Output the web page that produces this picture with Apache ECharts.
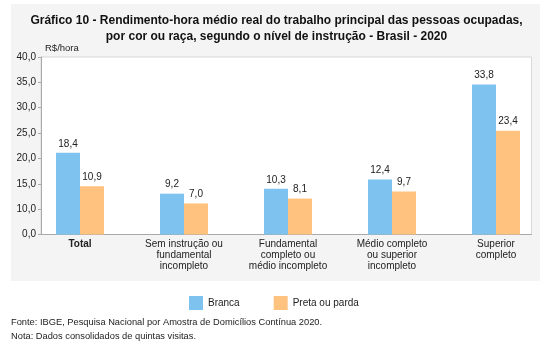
<!DOCTYPE html>
<html>
<head>
<meta charset="utf-8">
<script src="https://cdn.jsdelivr.net/npm/echarts@6/dist/echarts.min.js"></script>
<style>
  html, body { margin: 0; padding: 0; background: #fff; }
  #chart { width: 553px; height: 352px; }
</style>
</head>
<body>
<div id="chart"></div>
<script>
// dados
var categorias = ['Total', 'Sem instrução ou\nfundamental\nincompleto', 'Fundamental\ncompleto ou\nmédio incompleto', 'Médio completo\nou superior\nincompleto', 'Superior\ncompleto'];
var branca = [18.4, 9.2, 10.3, 12.4, 33.8];
var pretaParda = [10.9, 7.0, 8.1, 9.7, 23.4];
// rótulos do eixo como aparecem no original (sem o 5,0)
var rotulosEixo = ['0,0', '10,0', '15,0', '20,0', '25,0', '30,0', '35,0', '40,0'];

var fonte = 'Liberation Sans, Arial, sans-serif';
var passo = 40 / (rotulosEixo.length - 1);

function virgula(v) {
    return v.toFixed(1).replace('.', ',');
}

var chart = echarts.init(document.getElementById('chart'), null, {renderer: 'canvas'});

var rotuloBarra = {
    show: true,
    position: 'top',
    distance: 4,
    color: '#222',
    fontSize: 10,
    fontFamily: fonte,
    formatter: function (p) { return virgula(p.value); }
};

chart.setOption({
    backgroundColor: '#fff',
    animation: false,
    textStyle: {fontFamily: fonte},
    title: [{
        text: 'Gráfico 10 - Rendimento-hora médio real do trabalho principal das pessoas ocupadas,\npor cor ou raça, segundo o nível de instrução - Brasil - 2020',
        left: 'center',
        top: 8,
        textStyle: {fontSize: 12, fontWeight: 'bold', color: '#111', lineHeight: 16, fontFamily: fonte}
    }, {
        text: 'Fonte: IBGE, Pesquisa Nacional por Amostra de Domicílios Contínua 2020.\nNota: Dados consolidados de quintas visitas.',
        left: 11,
        top: 315,
        padding: 0,
        textStyle: {fontSize: 9.3, fontWeight: 'normal', color: '#222', lineHeight: 14, fontFamily: fonte}
    }, {
        text: 'R$/hora',
        left: 45,
        top: 43,
        padding: 0,
        textStyle: {fontSize: 9.5, fontWeight: 'normal', color: '#222', fontFamily: fonte}
    }],
    graphic: [{
        type: 'rect',
        z: -10,
        shape: {x: 11, y: 4, width: 529, height: 277},
        style: {fill: '#f4f4f4'}
    }],
    legend: {
        left: 184,
        top: 291,
        itemWidth: 14,
        itemHeight: 14,
        itemGap: 34,
        icon: 'rect',
        textStyle: {fontSize: 10, color: '#222', fontFamily: fonte},
        data: ['Branca', 'Preta ou parda']
    },
    grid: [
        {left: 41, top: 57, right: 21.5, bottom: 117.5, show: true, backgroundColor: '#fff', borderColor: '#d8d8d8', borderWidth: 1},
        {left: 28, top: 57, width: 520, bottom: 117.5}
    ],
    xAxis: [{
        gridIndex: 0,
        type: 'value',
        min: 0, max: 1,
        axisLine: {show: true, lineStyle: {color: '#aaa'}},
        axisTick: {show: false},
        axisLabel: {show: false},
        splitLine: {show: false}
    }, {
        gridIndex: 1,
        type: 'category',
        data: categorias,
        axisLine: {show: false},
        axisTick: {show: false},
        axisLabel: {
            interval: 0,
            margin: 4,
            fontSize: 10,
            lineHeight: 11,
            color: '#222',
            formatter: function (v) { return v === 'Total' ? '{b|Total}' : v; },
            rich: {b: {fontWeight: 'bold', fontSize: 10, color: '#222'}}
        }
    }],
    yAxis: [{
        gridIndex: 0,
        type: 'value',
        min: 0, max: 40,
        interval: passo,
        axisLine: {show: true, lineStyle: {color: '#aaa'}},
        axisTick: {show: true, length: 3, lineStyle: {color: '#aaa'}},
        splitLine: {show: false},
        axisLabel: {
            fontSize: 10,
            color: '#222',
            margin: 5,
            formatter: function (v) { return rotulosEixo[Math.round(v / passo)]; }
        }
    }, {
        gridIndex: 1,
        type: 'value',
        min: 0, max: 40,
        show: false
    }],
    series: [{
        name: 'Branca',
        type: 'bar',
        xAxisIndex: 1, yAxisIndex: 1,
        barWidth: 24,
        barGap: '0%',
        itemStyle: {color: '#7ec3ef'},
        label: rotuloBarra,
        data: branca
    }, {
        name: 'Preta ou parda',
        type: 'bar',
        xAxisIndex: 1, yAxisIndex: 1,
        barWidth: 24,
        barGap: '0%',
        itemStyle: {color: '#ffc27f'},
        label: rotuloBarra,
        data: pretaParda
    }]
});
</script>
</body>
</html>
